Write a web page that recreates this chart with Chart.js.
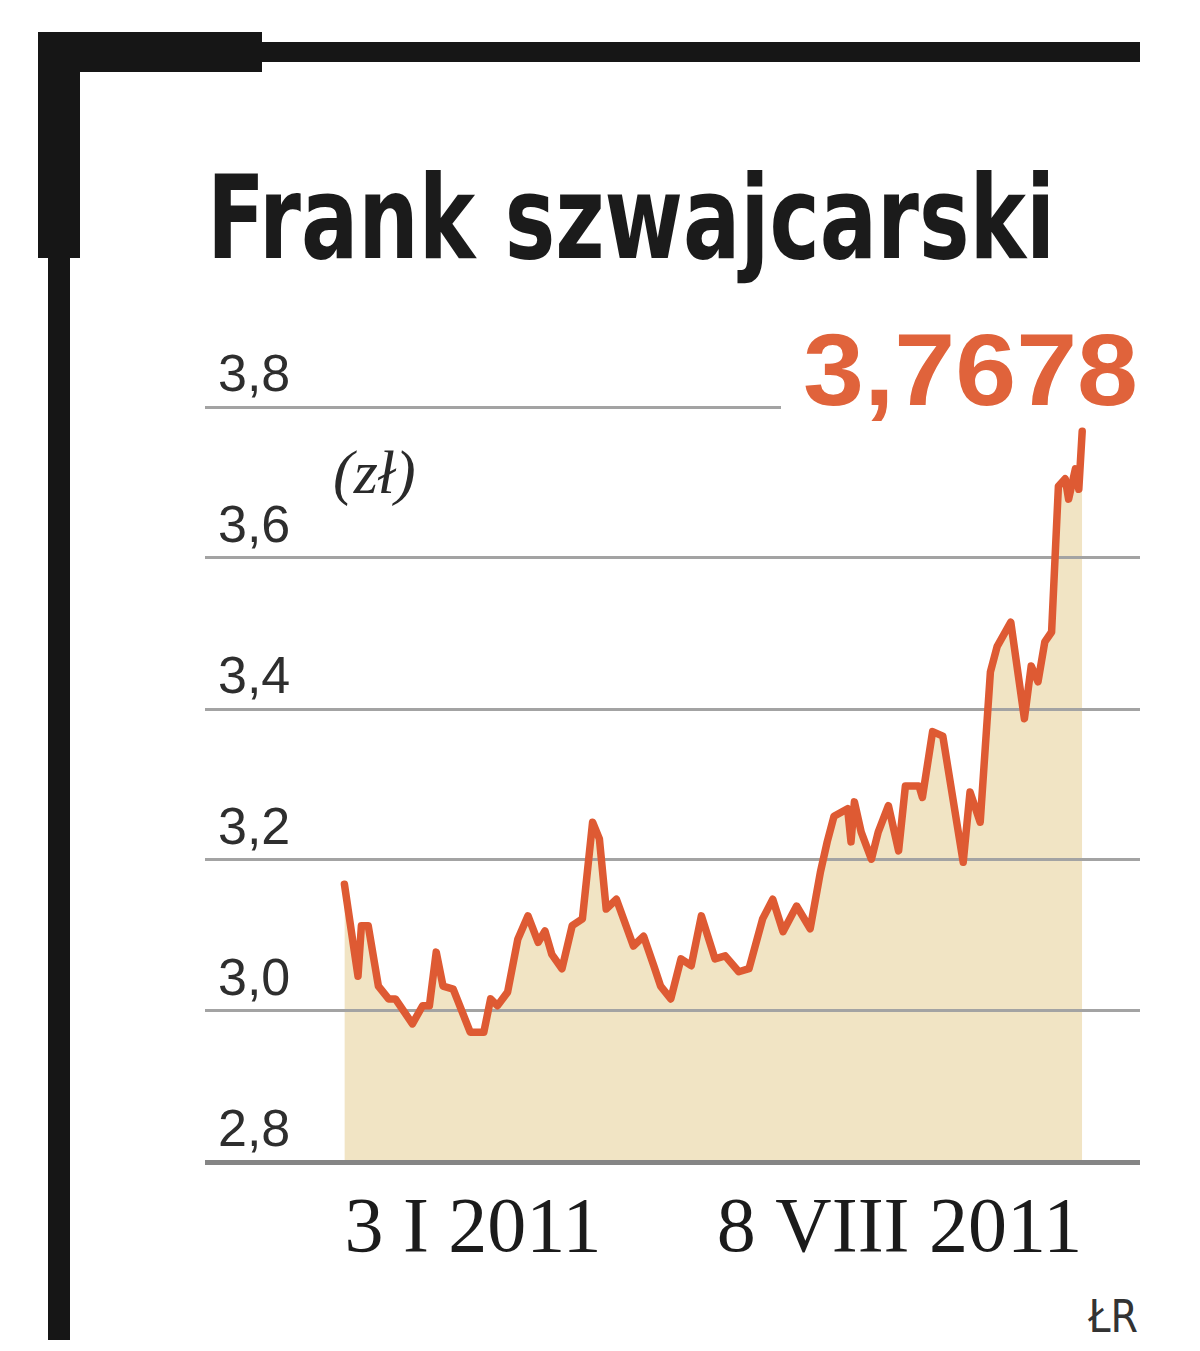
<!DOCTYPE html>
<html lang="pl">
<head>
<meta charset="utf-8">
<title>Frank szwajcarski</title>
<script src="https://cdn.jsdelivr.net/npm/chart.js@4.4.1/dist/chart.umd.min.js"></script>
<style>
    html, body { margin: 0; padding: 0; background: #fff; }
    body { width: 1200px; height: 1351px; position: relative; overflow: hidden; }
    .ramka { position: absolute; background: #161616; }
    #tytul {
        position: absolute; left: 207px; top: 160px;
        font: bold 116px "Liberation Sans Narrow", "DejaVu Sans Condensed", sans-serif;
        line-height: 1; color: #1b1b1b; white-space: nowrap;
        transform-origin: left top;
    }
    #jednostka {
        position: absolute; left: 333px; top: 441px;
        font: italic 62px "Liberation Serif", "DejaVu Serif", serif;
        line-height: 1; color: #2a2a2a;
    }
    #zrodlo {
        position: absolute; right: 62px; top: 1295px;
        font: 44px "DejaVu Sans Condensed", "Liberation Sans", sans-serif;
        line-height: 1; color: #333;
    }
    #pole { position: absolute; left: 0; top: 0; width: 1200px; height: 1351px; }
</style>
</head>
<body>

<div class="ramka" style="left:38px; top:32px; width:224px; height:40px;"></div>
<div class="ramka" style="left:262px; top:42px; width:878px; height:20px;"></div>
<div class="ramka" style="left:38px; top:32px; width:42px; height:226px;"></div>
<div class="ramka" style="left:48px; top:258px; width:22px; height:1082px;"></div>

<div id="tytul">Frank szwajcarski</div>
<div id="jednostka">(zł)</div>
<div id="zrodlo">ŁR</div>

<div id="pole"><canvas id="wykres"></canvas></div>

<script>
/* =========================================================
   DANE: kurs CHF/PLN, dni liczone od 3 I 2011
========================================================= */
const dni = [0, 4, 5, 7, 10, 13, 15, 20, 23, 25, 27, 29, 32, 37, 41, 43, 45, 48, 51, 54,
             57, 59, 61, 64, 67, 70, 73, 75, 77, 80, 85, 88, 91, 93, 96, 99, 102, 105, 109, 112,
             116, 119, 123, 126, 129, 133, 137, 140, 142, 144, 148, 149, 150, 152, 155, 157, 160, 163, 165, 169,
             170, 173, 176, 182, 184, 187, 190, 192, 196, 200, 202, 204, 206, 208, 210, 212, 213, 215, 216, 217];
const kurs = [3.168, 3.046, 3.113, 3.113, 3.033, 3.016, 3.016, 2.983, 3.007, 3.007, 3.078, 3.033, 3.029, 2.972, 2.972, 3.016, 3.007, 3.025, 3.095, 3.126,
              3.091, 3.106, 3.075, 3.056, 3.113, 3.122, 3.250, 3.228, 3.135, 3.148, 3.086, 3.099, 3.060, 3.033, 3.016, 3.069, 3.060, 3.126, 3.069, 3.073,
              3.052, 3.056, 3.122, 3.148, 3.105, 3.139, 3.109, 3.184, 3.224, 3.258, 3.268, 3.224, 3.277, 3.237, 3.201, 3.237, 3.272, 3.212, 3.298, 3.298,
              3.283, 3.370, 3.364, 3.197, 3.290, 3.250, 3.449, 3.483, 3.515, 3.387, 3.457, 3.436, 3.489, 3.502, 3.695, 3.705, 3.678, 3.718, 3.691, 3.7678];

const wartosciOsiY = [2.8, 3.0, 3.2, 3.4, 3.6, 3.8];
const etykietyOsiY = ['2,8', '3,0', '3,2', '3,4', '3,6', '3,8'];
const dniEtykiet = [0, 217];
const etykietyOsiX = ['3 I 2011', '8 VIII 2011'];

/* Tytuł dociągnięty do szerokości z oryginału */
const tytul = document.getElementById('tytul');
tytul.style.transform = 'scaleX(' + (848 / tytul.getBoundingClientRect().width) + ')';

/* =========================================================
   Duża liczba z ostatnim kursem + przerwa w linii 3,8
========================================================= */
const pluginOstatniKurs = {
    id: 'ostatniKurs',
    beforeDatasetsDraw(chart) {
        const ctx = chart.ctx;
        const y = chart.scales.y.getPixelForValue(3.8);
        ctx.save();
        ctx.fillStyle = '#fff';
        ctx.fillRect(781, y - 8, 380, 16);
        ctx.restore();
    },
    afterDraw(chart) {
        const ctx = chart.ctx;
        const tekst = kurs[kurs.length - 1].toFixed(4).replace('.', ',');
        ctx.save();
        ctx.font = 'bold 102px "Liberation Sans", sans-serif';
        const szer = ctx.measureText(tekst).width;
        ctx.translate(803, 405);
        ctx.scale(335 / szer, 1);
        ctx.fillStyle = '#e0633b';
        ctx.textBaseline = 'alphabetic';
        ctx.fillText(tekst, 0, 0);
        ctx.restore();
    }
};

new Chart(document.getElementById('wykres'), {
    type: 'line',
    data: {
        datasets: [{
            data: dni.map((d, i) => ({ x: d, y: kurs[i] })),
            borderColor: '#de5a33',
            borderWidth: 7.5,
            borderJoinStyle: 'round',
            borderCapStyle: 'round',
            backgroundColor: '#f1e4c4',
            fill: 'start',
            pointRadius: 0,
            tension: 0
        }]
    },
    options: {
        responsive: true,
        maintainAspectRatio: false,
        devicePixelRatio: 1,
        animation: false,
        layout: { padding: { left: 205, right: 60, top: 407, bottom: 0 } },
        plugins: {
            legend: { display: false },
            tooltip: { enabled: false },
            filler: { drawTime: 'beforeDraw' }
        },
        scales: {
            x: {
                type: 'linear',
                min: -41,
                max: 234,
                afterBuildTicks: s => { s.ticks = dniEtykiet.map(v => ({ value: v })); },
                afterFit: s => { s.height = 189; },
                grid: { display: false },
                border: { display: false },
                ticks: {
                    autoSkip: false,
                    maxRotation: 0,
                    align: 'inner',
                    padding: 14,
                    color: '#1b1b1b',
                    font: { family: '"Liberation Serif", serif', size: 78 },
                    callback: (v, i) => etykietyOsiX[i]
                }
            },
            y: {
                min: 2.8,
                max: 3.8,
                afterBuildTicks: s => { s.ticks = wartosciOsiY.map(v => ({ value: v })); },
                afterFit: s => { s.width = 0; },
                border: { display: false },
                grid: {
                    drawTicks: false,
                    color: c => c.tick && c.tick.value === 2.8 ? '#858585' : '#a3a3a3',
                    lineWidth: c => c.tick && c.tick.value === 2.8 ? 5 : 3
                },
                ticks: {
                    mirror: true,
                    padding: 13,
                    labelOffset: -30,
                    color: '#2e2e2e',
                    font: { family: '"Liberation Sans", sans-serif', size: 52 },
                    callback: (v, i) => etykietyOsiY[i]
                }
            }
        }
    },
    plugins: [pluginOstatniKurs]
});
</script>
</body>
</html>
